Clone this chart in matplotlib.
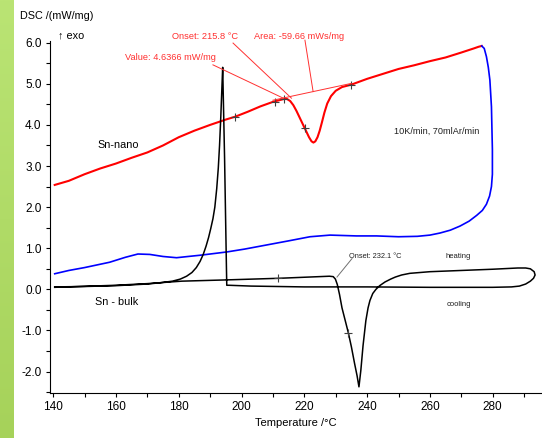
import numpy as np
import matplotlib
matplotlib.use("Agg")
import matplotlib.pyplot as plt
from matplotlib.ticker import MultipleLocator

plt.rcParams['font.family'] = ['Liberation Sans', 'DejaVu Sans']

# Sn-nano heating (red)
nano_heat_T = [140.5, 145, 150, 155, 160, 165, 170, 175, 180, 185, 190, 195, 198, 202, 206,
               210, 212, 213.5, 214.5, 215.5, 216.5, 217.5, 218.5, 219.5, 220.5, 221.5, 222.3,
               222.9, 223.5, 224.2, 224.9, 225.6, 226.4, 227.3, 228.5, 230, 232, 235, 240, 245,
               250, 255, 260, 265, 270, 274, 275.5, 276.5]
nano_heat_V = [2.54, 2.64, 2.8, 2.94, 3.06, 3.2, 3.33, 3.5, 3.7, 3.86, 4.0, 4.13, 4.2, 4.32, 4.45,
               4.56, 4.6, 4.63, 4.63, 4.58, 4.48, 4.34, 4.18, 4.02, 3.86, 3.7, 3.6,
               3.57, 3.6, 3.7, 3.86, 4.06, 4.3, 4.52, 4.7, 4.83, 4.92, 4.98, 5.12, 5.24,
               5.36, 5.45, 5.55, 5.64, 5.76, 5.86, 5.9, 5.92]

# Sn-nano cooling (blue)
nano_cool_T = [276.5, 277.3, 278, 278.6, 279.1, 279.6, 279.9, 279.9, 279.6, 279.0, 278.0, 276.7,
               274.9, 272.5, 269.6, 266.5, 263.2, 260, 256, 250, 243, 236.6, 228.2, 221.8, 215,
               208, 201, 195.3, 190, 186.8, 183, 179.3, 175, 170.8, 167, 163, 158, 150, 145, 140.5]
nano_cool_V = [5.92, 5.86, 5.66, 5.4, 5.09, 4.44, 3.4, 2.8, 2.5, 2.27, 2.07, 1.92,
               1.8, 1.66, 1.54, 1.44, 1.37, 1.32, 1.29, 1.28, 1.3, 1.3, 1.32, 1.28, 1.18,
               1.08, 0.98, 0.91, 0.86, 0.83, 0.8, 0.77, 0.8, 0.85, 0.86, 0.78, 0.66, 0.53, 0.46, 0.38]

# Sn-bulk heating + cooling loop (black)
bulk_T = [140.5, 160, 170, 181, 195, 212, 228, 229.2, 229.9, 230.5, 231.2, 232, 233, 234, 235,
          236, 236.8, 237.4, 238, 238.7, 239.6, 240.3, 240.9, 241.8, 242.8, 244, 245.7, 247.5,
          249, 251, 253.6, 260, 270, 280, 288, 290.5, 292, 293.2, 293.5, 293.0, 292, 290.5,
          288.5, 286, 280, 260, 240, 220, 203, 196, 195.3,
          195.2, 194.6, 194.0, 193.7, 193.4, 193.0, 192.6, 192.1, 191.5, 190.9, 190.2, 189.5,
          188.7, 187.8, 186.8, 185.6, 184.2, 182.5, 180.5, 178, 174, 170, 160, 150, 140.5]
bulk_V = [0.05, 0.1, 0.14, 0.2, 0.23, 0.27, 0.32, 0.31, 0.25, 0.12, -0.12, -0.45, -0.75, -1.05,
          -1.4, -1.8, -2.1, -2.37, -1.97, -1.37, -0.76, -0.45, -0.27, -0.1, 0.0, 0.09, 0.18, 0.25,
          0.3, 0.35, 0.39, 0.43, 0.46, 0.49, 0.52, 0.52, 0.5, 0.43, 0.35, 0.27, 0.2, 0.13,
          0.08, 0.06, 0.05, 0.05, 0.06, 0.06, 0.08, 0.1, 0.1,
          0.5, 3.2, 5.4, 4.8, 4.2, 3.5, 2.95, 2.45, 2.0, 1.72, 1.48, 1.26,
          1.05, 0.85, 0.68, 0.53, 0.41, 0.32, 0.25, 0.2, 0.16, 0.13, 0.09, 0.07, 0.06]

nano_marks_T = [197.9, 210.6, 213.6, 220.2, 235.0]
nano_marks_V = [4.2, 4.56, 4.62, 3.92, 4.98]
bulk_marks_T = [211.7, 234.0]
bulk_marks_V = [0.27, -1.05]

W, H = 542, 438
fig = plt.figure(figsize=(W / 100, H / 100), dpi=100)

# green strip on the left
strip = fig.add_axes([0, 0, 14 / W, 1])
grad = np.linspace(0, 1, 256)[:, None, None]
top = np.array([186, 228, 116]) / 255
bot = np.array([166, 210, 90]) / 255
strip.imshow(top * (1 - grad) + bot * grad, aspect='auto')
strip.axis('off')

ax = fig.add_axes([50 / W, 45 / H, (W - 50) / W, 352.4 / H])
ax.plot(nano_heat_T, nano_heat_V, color='#ff0000', lw=1.5)
ax.plot(nano_cool_T, nano_cool_V, color='#0000ff', lw=1.2)
ax.plot(bulk_T, bulk_V, color='black', lw=1.1)
ax.plot(nano_marks_T, nano_marks_V, '+', color='#404040', ms=6, mew=0.8)
ax.plot(bulk_marks_T, bulk_marks_V, '+', color='#404040', ms=6, mew=0.8)

# evaluation lines
red = '#ff3030'
ax.plot([210.0, 235.0], [4.6, 5.01], color=red, lw=0.7)
ax.plot([197.3, 215.9], [5.99, 4.65], color=red, lw=0.7, clip_on=False)
ax.plot([190.9, 213.3], [5.46, 4.65], color=red, lw=0.7)
ax.plot([220.2, 222.8], [6.06, 4.81], color=red, lw=0.7, clip_on=False)
ax.plot([235.2, 230.4], [0.75, 0.3], color='#707070', lw=0.7)

ax.text(188.5, 6.16, 'Onset: 215.8 °C', color=red, fontsize=6.7, ha='center', va='center')
ax.text(218.4, 6.16, 'Area: -59.66 mWs/mg', color=red, fontsize=6.7, ha='center', va='center')
ax.text(177.2, 5.63, 'Value: 4.6366 mW/mg', color=red, fontsize=6.7, ha='center', va='center')
ax.text(160.6, 3.51, 'Sn-nano', fontsize=7.8, ha='center', va='center')
ax.text(160.2, -0.31, 'Sn - bulk', fontsize=7.8, ha='center', va='center')
ax.text(262.2, 3.85, '10K/min, 70mlAr/min', color='#202020', fontsize=6.6, ha='center', va='center')
ax.text(242.6, 0.81, 'Onset: 232.1 °C', color='#202020', fontsize=5.3, ha='center', va='center')
ax.text(269.1, 0.79, 'heating', color='#202020', fontsize=5.5, ha='center', va='center')
ax.text(269.1, -0.36, 'cooling', color='#202020', fontsize=5.5, ha='center', va='center')

ax.set_xlim(139.0, 295.7)
ax.set_ylim(-2.52, 6.05)
ax.xaxis.set_major_locator(MultipleLocator(20))
ax.xaxis.set_minor_locator(MultipleLocator(10))
ax.yaxis.set_major_locator(MultipleLocator(1))
ax.yaxis.set_minor_locator(MultipleLocator(0.5))
ax.yaxis.set_major_formatter(plt.FuncFormatter(lambda v, p: f'{v:.1f}'))
ax.tick_params(which='both', direction='out', length=3, width=0.8, labelsize=8.5, pad=3)
for s in ['top', 'right']:
    ax.spines[s].set_visible(False)
ax.set_xlabel('Temperature /°C', fontsize=8, labelpad=3)

fig.text(20 / W, 1 - 16 / H, 'DSC /(mW/mg)', fontsize=7.8, va='center', ha='left')
fig.text(58 / W, 1 - 35 / H, '↑ exo', fontsize=7.8, va='center', ha='left',
         family=['Liberation Sans', 'DejaVu Sans'])

fig.savefig('out.png', dpi=100)
